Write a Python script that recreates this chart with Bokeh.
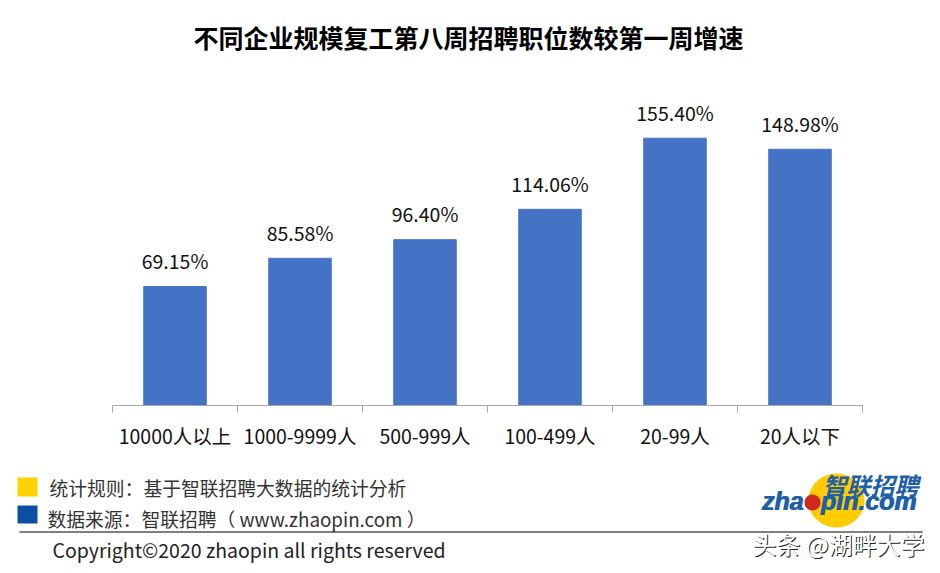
import numpy as np
from bokeh.plotting import figure
from bokeh.layouts import column
from bokeh.models import (ColumnDataSource, Range1d, LinearAxis, FixedTicker, Label, BoxAnnotation, PolyAnnotation)
from bokeh.core.properties import value
from bokeh.embed import file_html
from bokeh.resources import INLINE

categories = ["10000人以上", "1000-9999人", "500-999人", "100-499人", "20-99人", "20人以下"]
growth = [69.15, 85.58, 96.40, 114.06, 155.40, 148.98]
title_text = "不同企业规模复工第八周招聘职位数较第一周增速"
rule_text = "统计规则：基于智联招聘大数据的统计分析"
source_text = "数据来源：智联招聘（ www.zhaopin.com ）"
copyright_text = "Copyright©2020 zhaopin all rights reserved"
watermark_text = "头条 @湖畔大学"

FONT = "Noto Sans CJK SC"
W = 940
TOP_H, CHART_H, FOOT_H = 61, 404, 108
FOOT_Y = TOP_H + CHART_H


def blank(height):
    f = figure(width=W, height=height, output_backend="svg", toolbar_location=None,
               x_range=Range1d(0, W), y_range=Range1d(height, 0),
               min_border_left=0, min_border_right=0, min_border_top=0, min_border_bottom=0,
               outline_line_color=None, x_axis_type=None, y_axis_type=None, align="start")
    f.grid.visible = False
    return f


top = blank(TOP_H)
foot = blank(FOOT_H)

p = figure(width=W, height=CHART_H, output_backend="svg", toolbar_location=None,
           x_range=Range1d(0, 6), y_range=Range1d(0, 200),
           min_border_left=112, min_border_right=78, min_border_top=0, min_border_bottom=60,
           outline_line_color=None, x_axis_type=None, y_axis_type=None, align="start")
p.grid.visible = False

centers = [i + 0.5 for i in range(len(categories))]
src = ColumnDataSource(dict(x=centers, top=growth, label=[f"{v:.2f}%" for v in growth]))
p.vbar(x="x", top="top", width=0.5, bottom=0, source=src, color="#4472C4")
p.text(x="x", y="top", text="label", source=src, text_align="center", text_baseline="middle",
       y_offset=-26, text_font=value(FONT), text_font_size="19.5px", text_color="#111111")

ax = LinearAxis(ticker=FixedTicker(ticks=centers, minor_ticks=list(range(len(categories) + 1))))
ax.major_label_overrides = {c: t for c, t in zip(centers, categories)}
ax.major_tick_line_color = None
ax.major_tick_in = 0
ax.major_tick_out = 0
ax.minor_tick_in = 0
ax.minor_tick_out = 7
ax.minor_tick_line_color = "#a6a6a6"
ax.axis_line_color = "#a6a6a6"
ax.major_label_standoff = 8
ax.major_label_text_font = FONT
ax.major_label_text_font_size = "19.5px"
ax.major_label_text_color = "#111111"
p.add_layout(ax, "below")


def txt(f, x, y, s, size, color="#111111", style="normal", align="left", font=FONT):
    f.add_layout(Label(x=x, y=y, x_units="canvas", y_units="canvas", text=s,
                       text_font=font, text_font_size=f"{size}px", text_color=color,
                       text_font_style=style, text_align=align, text_baseline="middle"))


def box(f, l, r, t, b, color):
    f.add_layout(BoxAnnotation(left=l, right=r, top=t, bottom=b,
                               left_units="canvas", right_units="canvas", top_units="canvas", bottom_units="canvas",
                               fill_color=color, fill_alpha=1, line_color=None))


def disc(f, cx, cy, rx, ry, color):
    a = np.linspace(0, 2 * np.pi, 60)
    f.add_layout(PolyAnnotation(xs=list(cx + rx * np.cos(a)), ys=list(cy + ry * np.sin(a)),
                                xs_units="canvas", ys_units="canvas", fill_color=color, fill_alpha=1, line_color=None))


txt(top, 468, 36, title_text, 25, "#000000", "bold", "center")

Y = FOOT_Y
box(foot, 17, 37, 477 - Y, 496 - Y, "#FFD200")
box(foot, 17, 37, 505 - Y, 523 - Y, "#0B4EA2")
txt(foot, 49, 487 - Y, rule_text, 18.8, "#333333")
txt(foot, 47, 518 - Y, source_text, 18.8, "#333333")
box(foot, 19, 922, 531 - Y, 532 - Y, "#000000")
txt(foot, 52, 549 - Y, copyright_text, 19.5, "#222222")

# logo
disc(foot, 836, 500 - Y, 28, 27, "#FFCC00")
txt(foot, 870, 484 - Y, "智联招聘", 24, "#1F5FA8", "bold italic", "center")
for dx in (0, 1):
    txt(foot, 761 + dx, 500 - Y, "zha", 25, "#1F5FA8", "bold italic", "left", "Liberation Sans")
    txt(foot, 820 + dx, 500 - Y, "pin.com", 25, "#1F5FA8", "bold italic", "left", "Liberation Sans")
disc(foot, 812, 502 - Y, 8, 8, "#D0281C")

txt(foot, 753, 544 - Y, watermark_text, 24, "#222222")
txt(foot, 752, 543 - Y, watermark_text, 24, "#FFFFFF")

page = column(column(top), column(p), column(foot), spacing=0)
open("out.html", "w").write(file_html(page, INLINE))
